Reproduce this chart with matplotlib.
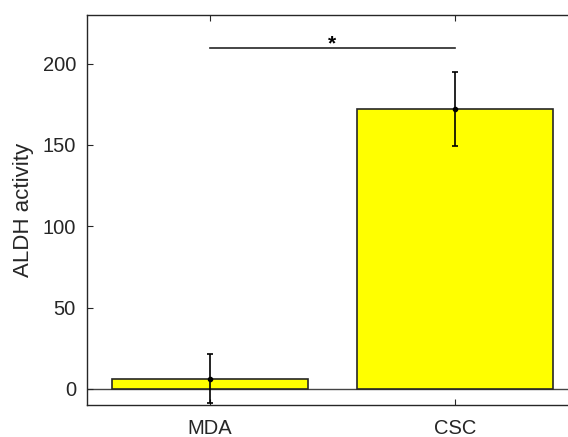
import numpy as np
import matplotlib.pyplot as plt

plt.rcParams['font.family'] = ['Liberation Sans', 'DejaVu Sans']

groups = ['MDA', 'CSC']
means = [6.3, 172.3]
errs = [15.3, 22.8]
sig_y = 210

dark = '#262626'
fig = plt.figure(figsize=(5.68, 4.37), dpi=100)
ax = fig.add_axes([87/568, 32/437, (577.5-87)/568, 390/437])

x = np.arange(1, len(groups) + 1)
ax.bar(x, means, width=0.8, color='#ffff00', edgecolor=dark, linewidth=1.2, zorder=2)
ax.errorbar(x, means, yerr=errs, fmt='o', color='black', ms=3, capsize=2,
            elinewidth=1.2, capthick=1.2, zorder=3)
ax.axhline(0, color='#444444', lw=1.0, zorder=1)

# significance bar
ax.plot([x[0], x[1]], [sig_y, sig_y], color=dark, lw=1.2)
ax.text(x.mean(), sig_y - 3.5, '*', ha='center', va='bottom', fontsize=15,
        fontweight='bold', color='black')

ax.set_xlim(0.5, 2.5)
ax.set_ylim(-10, 230)
ax.set_xticks(x)
ax.set_xticklabels(groups)
ax.set_yticks([0, 50, 100, 150, 200])
ax.set_ylabel('ALDH activity', fontsize=16, color=dark, labelpad=6)
ax.tick_params(direction='in', length=4, labelsize=14.5, colors=dark, top=True, right=True)
ax.tick_params(axis='y', pad=8)
ax.tick_params(axis='x', pad=10)
for s in ax.spines.values():
    s.set_color(dark)
    s.set_linewidth(1.0)

fig.savefig('out.png', dpi=100)
